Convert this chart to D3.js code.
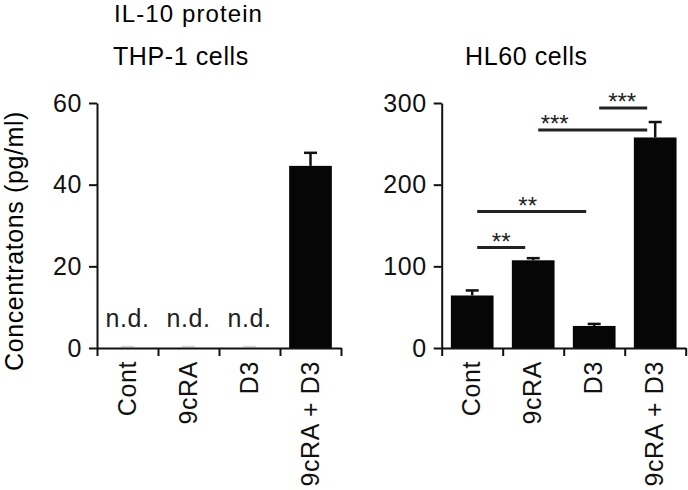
<!DOCTYPE html>
<html>
<head>
<meta charset="utf-8">
<script src="https://cdn.jsdelivr.net/npm/d3@7"></script>
<style>
	body { margin: 0; background: #fff; }
	text { font-family: "Liberation Sans", Arial, sans-serif; letter-spacing: 0.6px; }
</style>
</head>
<body>
<script>
//Declare data
var categories = ["Cont", "9cRA", "D3", "9cRA + D3"];

var thpMeans = [0, 0, 0, 44.6];
var thpErrors = [0, 0, 0, 3.2];
var thpNotes = ["n.d.", "n.d.", "n.d.", ""];
var thpTicks = [0, 20, 40, 60];

var hlMeans = [64.3, 107.4, 27, 257.8];
var hlErrors = [6.2, 2.6, 2.5, 18.9];
var hlNotes = ["", "", "", ""];
var hlTicks = [0, 100, 200, 300];

//significance brackets for HL60 (category index from / to, height in pg/ml, stars)
var sigFrom = [0, 0, 1, 2];
var sigTo = [1, 2, 3, 3];
var sigHeights = [123, 167, 267, 294];
var sigLabels = ["**", "**", "***", "***"];

//Declare layout
var width = 688;
var height = 490;
var fontSize = 25;
var panelWidth = 244;
var yTop = 103;
var yBottom = 348;
var starShift = [0, -4, -38, -1];

var body = d3.select("body");
var svg = body.append("svg");
svg.attr("width", width);
svg.attr("height", height);

//titles
svg.append("text")
	.attr("x", 114)
	.attr("y", 22)
	.attr("font-size", 24)
	.style("letter-spacing", "1.1px")
	.text("IL-10 protein");
svg.append("text")
	.attr("x", 113)
	.attr("y", 65)
	.attr("font-size", fontSize)
	.text("THP-1 cells");
svg.append("text")
	.attr("x", 465)
	.attr("y", 65)
	.attr("font-size", fontSize)
	.text("HL60 cells");

//y axis title
svg.append("text")
	.attr("transform", "translate(23, 241) rotate(-90)")
	.attr("text-anchor", "middle")
	.attr("font-size", fontSize)
	.text("Concentratons (pg/ml)");

var thpScales = drawPanel(svg, 97, thpMeans, thpErrors, thpNotes, thpTicks);
var hlScales = drawPanel(svg, 441.7, hlMeans, hlErrors, hlNotes, hlTicks);
drawBrackets(svg, hlScales);

//draws one bar chart panel, returns its scales
function drawPanel(inSVG, left, means, errors, notes, ticks) {
	var yScale = d3.scaleLinear()
		.domain([0, ticks[ticks.length - 1]])
		.range([yBottom, yTop]);
	var xBand = d3.scaleBand()
		.domain(categories)
		.range([left, left + panelWidth])
		.paddingInner(0.3)
		.paddingOuter(0.15);
	var xEdge = d3.scaleLinear()
		.domain([0, categories.length])
		.range([left, left + panelWidth]);

	var g = inSVG.append("g");

	//bars
	g.selectAll("rect.bar").data(means).enter()
		.append("rect")
		.attr("class", "bar")
		.attr("x", function(d, i) { return xBand(categories[i]); })
		.attr("width", xBand.bandwidth())
		.attr("y", function(d) { return yScale(d); })
		.attr("height", function(d) { return yScale(0) - yScale(d); })
		.attr("fill", "#060606");

	//error bars (only upward)
	for (var i = 0; i < means.length; i++) {
		var cx = xBand(categories[i]) + xBand.bandwidth() / 2;
		var faint = means[i] == 0;
		var topY = faint ? yScale(0) - 1.5 : yScale(means[i] + errors[i]);
		if (!faint) {
			g.append("line")
				.attr("x1", cx).attr("x2", cx)
				.attr("y1", yScale(means[i]))
				.attr("y2", topY)
				.attr("stroke", "#111")
				.attr("stroke-width", 2.5);
		}
		g.append("line")
			.attr("x1", cx - 6.5).attr("x2", cx + 6.5)
			.attr("y1", topY).attr("y2", topY)
			.attr("stroke", faint ? "#d6d6d6" : "#111")
			.attr("stroke-width", faint ? 1.5 : 2.5);
		if (notes[i] != "") {
			g.append("text")
				.attr("x", cx)
				.attr("y", 327)
				.attr("text-anchor", "middle")
				.attr("font-size", fontSize)
				.attr("fill", "#222")
				.text(notes[i]);
		}
	}

	//Make Y Axis
	var yAxis = d3.axisLeft(yScale)
		.tickValues(ticks)
		.tickSize(8)
		.tickPadding(7)
		.tickSizeOuter(0);
	var yG = g.append("g")
		.attr("transform", "translate(" + left + ", 0)")
		.call(yAxis);
	styleAxis(yG);

	//Make X Axis with ticks between the groups
	var xAxis = d3.axisBottom(xEdge)
		.tickValues(d3.range(categories.length + 1))
		.tickFormat("")
		.tickSize(8)
		.tickSizeOuter(0);
	var xG = g.append("g")
		.attr("transform", "translate(0, " + yBottom + ")")
		.call(xAxis);
	styleAxis(xG);

	//category labels, rotated
	var labelAxis = d3.axisBottom(xBand).tickSize(0);
	var lG = g.append("g")
		.attr("transform", "translate(0, " + yBottom + ")")
		.call(labelAxis);
	lG.select(".domain").remove();
	styleAxis(lG);
	lG.selectAll("text")
		.attr("transform", "rotate(-90)")
		.attr("text-anchor", "end")
		.attr("x", -13)
		.attr("y", 0)
		.attr("dy", "0.33em");

	return { x: xBand, y: yScale };
}

//common axis look
function styleAxis(axisG) {
	axisG.attr("font-size", fontSize)
		.attr("font-family", "Liberation Sans, Arial, sans-serif");
	axisG.selectAll("path, line")
		.attr("stroke", "#111")
		.attr("stroke-width", 2);
	axisG.selectAll("text").attr("fill", "#111");
}

//draws the significance lines and stars
function drawBrackets(inSVG, scales) {
	var half = scales.x.bandwidth() / 2;
	for (var i = 0; i < sigLabels.length; i++) {
		var x1 = scales.x(categories[sigFrom[i]]) + half + 5;
		var x2 = scales.x(categories[sigTo[i]]) + half - 8;
		var ly = scales.y(sigHeights[i]);
		inSVG.append("line")
			.attr("x1", x1).attr("x2", x2)
			.attr("y1", ly).attr("y2", ly)
			.attr("stroke", "#222")
			.attr("stroke-width", 3);
		inSVG.append("text")
			.attr("x", (x1 + x2) / 2 + starShift[i])
			.attr("y", ly + 2)
			.attr("text-anchor", "middle")
			.attr("font-size", 24)
			.style("letter-spacing", "0px")
			.attr("fill", "#222")
			.text(sigLabels[i]);
	}
}
</script>
</body>
</html>
